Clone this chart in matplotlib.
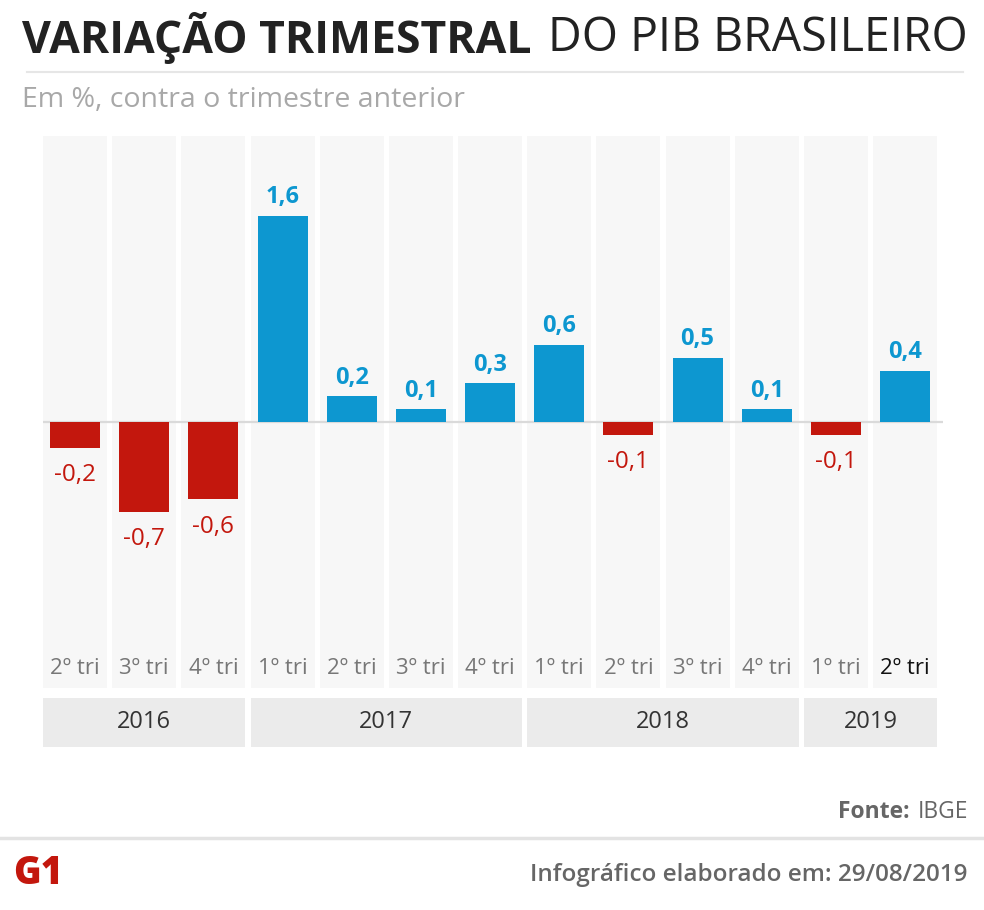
import matplotlib
matplotlib.use("Agg")
import matplotlib.pyplot as plt
import numpy as np

# ---- data ----
quarters = ["2º tri", "3º tri", "4º tri", "1º tri", "2º tri", "3º tri", "4º tri",
            "1º tri", "2º tri", "3º tri", "4º tri", "1º tri", "2º tri"]
values = [-0.2, -0.7, -0.6, 1.6, 0.2, 0.1, 0.3, 0.6, -0.1, 0.5, 0.1, -0.1, 0.4]
years = ["2016", "2017", "2018", "2019"]
year_counts = [3, 4, 4, 2]

W, H = 984, 910
plt.rcParams['font.family'] = ['Open Sans', 'DejaVu Sans']
fig = plt.figure(figsize=(W / 100, H / 100), dpi=100)
fig.patch.set_facecolor("white")

BLUE = "#0d97d0"
RED = "#c3170d"
COLBG = "#f7f7f7"
BAND = "#ebebeb"


def fx(px):
    return px / W


def fy(py):
    return 1 - py / H


# main axes: pixel 43..943 horizontally, 136..688 vertically
slot = (905 - 75) / 12.0
xl0 = -(75 - 43) / slot
xl1 = (943 - 75) / slot
ppu = 128.75
yl1 = (422 - 136) / ppu
yl0 = -(688 - 422) / ppu

ax = fig.add_axes([fx(43), fy(688), fx(900), (688 - 136) / H])
ax.set_xlim(xl0, xl1)
ax.set_ylim(yl0, yl1)
ax.axis("off")

x = np.arange(len(values))
bgw = 64 / slot
ax.bar(x, yl1 - yl0, bottom=yl0, width=bgw, color=COLBG, zorder=0)
ax.axhline(0, color="#dadada", lw=1.6, zorder=1)
cols = [BLUE if v >= 0 else RED for v in values]
ax.bar(x, values, width=50 / slot, color=cols, zorder=2)

for xi, v in zip(x, values):
    s = f"{v:.1f}".replace(".", ",")
    if v >= 0:
        ax.annotate(s, (xi, v), xytext=(0, 9), textcoords="offset points",
                    ha="center", va="baseline", fontsize=17, fontweight="bold",
                    color=BLUE)
    else:
        ax.annotate(s, (xi, v), xytext=(0, -24), textcoords="offset points",
                    ha="center", va="baseline", fontsize=17.5, color=RED)

for i, (xi, q) in enumerate(zip(x, quarters)):
    last = i == len(quarters) - 1
    ax.text(xi, yl0 + (688 - 668) / ppu, q, ha="center", va="center",
            fontsize=16, color="#111111" if last else "#777777")

# year bands
axb = fig.add_axes([fx(43), fy(747), fx(900), 49 / H])
axb.set_xlim(xl0, xl1)
axb.set_ylim(0, 1)
axb.axis("off")
start = 0
for yr, n in zip(years, year_counts):
    left = start - bgw / 2
    right = start + n - 1 + bgw / 2
    axb.bar((left + right) / 2, 1, width=right - left, color=BAND)
    axb.text((left + right) / 2, 0.5, yr, ha="center", va="center",
             fontsize=17, color="#333333")
    start += n

# title
fig.text(fx(22), fy(38), "VARIAÇÃO TRIMESTRAL", ha="left", va="center",
         fontsize=32, fontweight="bold", color="#222222")
fig.text(fx(968), fy(38), "DO PIB BRASILEIRO", ha="right", va="center",
         fontsize=33.5, color="#222222")
fig.add_artist(plt.Line2D([fx(27), fx(963)], [fy(72), fy(72)], color="#e6e6e6", lw=1.5))
fig.text(fx(22), fy(100), "Em %, contra o trimestre anterior", ha="left", va="center",
         fontsize=20.5, color="#a8a8a8")

# footer
fig.text(fx(968), fy(812), "IBGE", ha="right", va="center", fontsize=16.5, color="#666666")
fig.text(fx(909), fy(812), "Fonte:", ha="right", va="center", fontsize=16.5,
         fontweight="bold", color="#666666")
fig.add_artist(plt.Line2D([0, 1], [fy(838), fy(838)], color="#e3e3e3", lw=2.5))
fig.text(fx(968), fy(875), "Infográfico elaborado em: 29/08/2019", ha="right", va="center",
         fontsize=17.5, fontweight="semibold", color="#666666")
fig.text(fx(13), fy(874), "G1", ha="left", va="center", fontsize=27,
         fontweight="heavy", color="#c3170d")

fig.savefig("out.png", dpi=100, facecolor="white")
